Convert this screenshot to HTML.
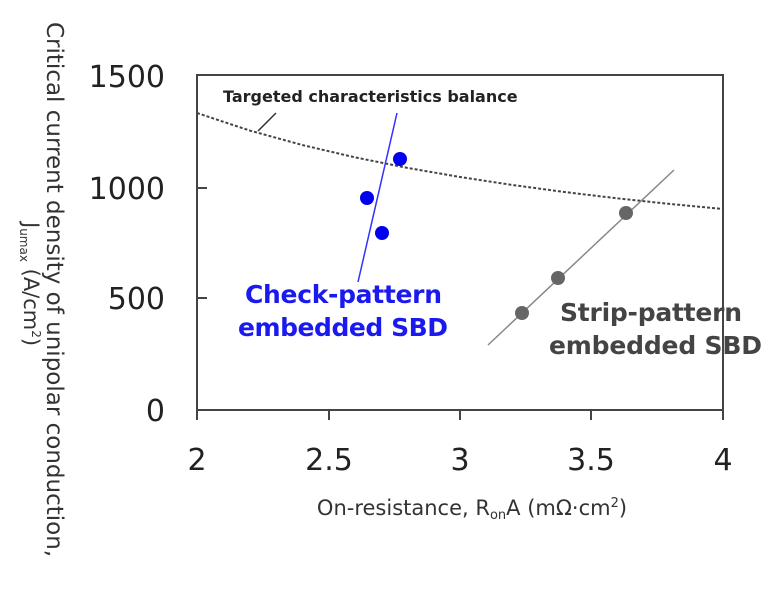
<!DOCTYPE html>
<html><head><style>
body{margin:0;background:#fff;}
svg text{font-family:"DejaVu Sans","Liberation Sans",sans-serif;}
</style></head><body>
<svg width="783" height="607" viewBox="0 0 783 607" xmlns="http://www.w3.org/2000/svg">
<rect width="783" height="607" fill="#fff"/>
<rect x="197" y="75" width="526" height="335" fill="none" stroke="#444" stroke-width="2"/>
<g stroke="#444" stroke-width="2">
<line x1="197" y1="188" x2="207" y2="188"/>
<line x1="197" y1="298" x2="207" y2="298"/>
<line x1="197" y1="410" x2="197" y2="420"/>
<line x1="329" y1="410" x2="329" y2="420"/>
<line x1="460" y1="410" x2="460" y2="420"/>
<line x1="591" y1="410" x2="591" y2="420"/>
<line x1="723" y1="410" x2="723" y2="420"/>
</g>
<g font-size="30" fill="#222" text-anchor="end">
<text x="165" y="87">1500</text>
<text x="165" y="199">1000</text>
<text x="165" y="309">500</text>
<text x="165" y="421">0</text>
</g>
<g font-size="30" fill="#222" text-anchor="middle">
<text x="197" y="470">2</text>
<text x="329" y="470">2.5</text>
<text x="460" y="470">3</text>
<text x="591" y="470">3.5</text>
<text x="723" y="470">4</text>
</g>
<text x="472" y="515" font-size="21" fill="#333" text-anchor="middle">On-resistance, R<tspan font-size="13" dy="4">on</tspan><tspan dy="-4">A (mΩ·cm</tspan><tspan font-size="13" dy="-8">2</tspan><tspan dy="8">)</tspan></text>
<text transform="translate(47,22) rotate(90)" font-size="23" fill="#333">Critical current density of unipolar conduction,</text>
<text transform="translate(24,222) rotate(90)" font-size="21" fill="#333">J<tspan font-size="12" dy="4">umax</tspan><tspan dy="-4"> (A/cm</tspan><tspan font-size="12" dy="-8">2</tspan><tspan dy="8">)</tspan></text>
<polyline points="197,113 249.6,130.5 302.2,145 354.8,157.3 407.4,167.9 460,177 512.6,185 565.2,192.1 617.8,198.4 670.4,204 723,209" fill="none" stroke="#444" stroke-width="2" stroke-dasharray="3,2" stroke-linejoin="round"/>
<line x1="258" y1="131" x2="276" y2="113" stroke="#333" stroke-width="1.5"/>
<text x="223" y="102" font-size="16" font-weight="bold" fill="#222">Targeted characteristics balance</text>
<line x1="358" y1="282" x2="397" y2="113" stroke="#3333ff" stroke-width="1.5"/>
<g fill="#0000ee">
<circle cx="367" cy="198" r="7"/>
<circle cx="382" cy="233" r="7"/>
<circle cx="400" cy="159" r="7"/>
</g>
<line x1="488" y1="345" x2="674" y2="170" stroke="#888" stroke-width="1.5"/>
<g fill="#666">
<circle cx="522" cy="313" r="7"/>
<circle cx="558" cy="278" r="7"/>
<circle cx="626" cy="213" r="7"/>
</g>
<g font-size="25" font-weight="bold" fill="#1a1aee">
<text x="245" y="303" textLength="197">Check-pattern</text>
<text x="238" y="336" textLength="210">embedded SBD</text>
</g>
<g font-size="25" font-weight="bold" fill="#444">
<text x="560" y="321" textLength="182">Strip-pattern</text>
<text x="549" y="354" textLength="213">embedded SBD</text>
</g>
</svg>
</body></html>
